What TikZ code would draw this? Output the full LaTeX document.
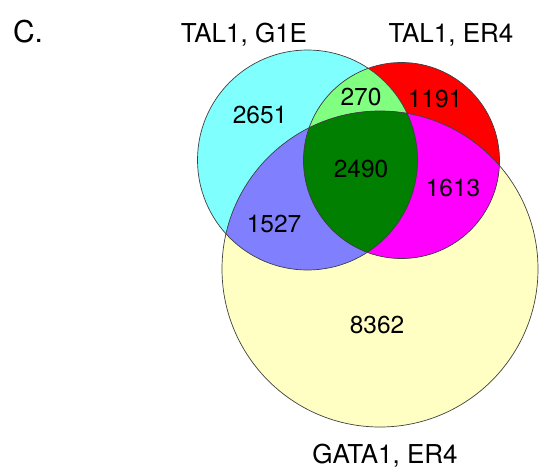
\documentclass[tikz,border=0pt]{standalone}
\usepackage{fontspec}
\setmainfont{TeX Gyre Heros}
\definecolor{gataclr}{HTML}{FFFFC4}
\definecolor{g1eclr}{HTML}{80FFFF}
\definecolor{erclr}{HTML}{FF0000}
\definecolor{lgreen}{HTML}{80FF80}
\definecolor{dgreen}{HTML}{007F00}
\definecolor{bluish}{HTML}{8080FF}
\definecolor{magent}{HTML}{FF00FF}
\begin{document}
\begin{tikzpicture}[x=1pt,y=-1pt,
    outline/.style={draw=black!75,line width=0.7pt},
    count/.style={font=\fontsize{24.5}{24.5}\selectfont,inner sep=0pt,anchor=base},
    setname/.style={font=\fontsize{26}{26}\selectfont,inner sep=0pt,anchor=base}]
    \useasboundingbox (0,0) rectangle (544,469);
    \def\gonecirc{(307.5,160) circle[radius=110]}
    \def\ercirc{(401.5,160.5) circle[radius=98]}
    \def\gatacirc{(380,269) circle[radius=158]}
    % single sets
    \fill[gataclr] \gatacirc;
    \fill[g1eclr] \gonecirc;
    \fill[erclr] \ercirc;
    % overlaps
    \begin{scope}
        \clip \gonecirc;
        \fill[lgreen] \ercirc;
        \fill[bluish] \gatacirc;
    \end{scope}
    \begin{scope}
        \clip \ercirc;
        \fill[magent] \gatacirc;
        \clip \gonecirc;
        \fill[dgreen] \gatacirc;
    \end{scope}
    \draw[outline] \gatacirc;
    \draw[outline] \gonecirc;
    \draw[outline] \ercirc;
    % labels
    \node[font=\fontsize{30}{30}\selectfont,inner sep=0pt,anchor=base] (panel) at (28,42) {C.};
    \node[setname] (gone) at (244,42) {TAL1, G1E};
    \node[setname] (erfour) at (451,42) {TAL1, ER4};
    \node[setname] (gata) at (385,463) {GATA1, ER4};
    % counts
    \node[count] (nA) at (260,123) {2651};
    \node[count] (nB) at (361,105) {270};
    \node[count] (nC) at (435,107) {1191};
    \node[count] (nD) at (361,177) {2490};
    \node[count] (nE) at (453,196) {1613};
    \node[count] (nF) at (274,232) {1527};
    \node[count] (nG) at (377,333) {8362};
\end{tikzpicture}
\end{document}
